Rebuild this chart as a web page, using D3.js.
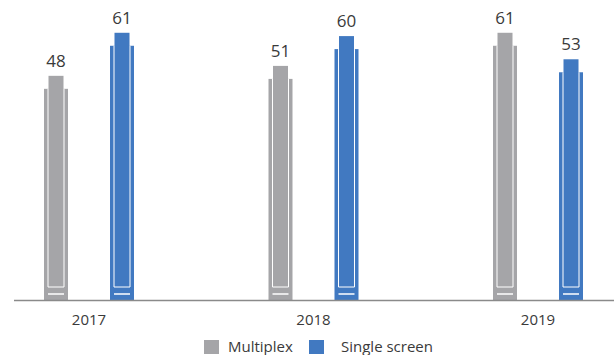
<!DOCTYPE html>
<html>
<head>
<meta charset="utf-8">
<script src="https://cdn.jsdelivr.net/npm/d3@7"></script>
<style>
  body { margin: 0; background: #fff; }
  svg { display: block; font-family: "Open Sans", sans-serif; }
</style>
</head>
<body>
<svg id="chart" width="614" height="355"></svg>
<script>
// data
var years = ['2017', '2018', '2019'];
var seriesNames = ['Multiplex', 'Single screen'];
var multiplex = [48, 51, 61];
var singleScreen = [61, 60, 53];
var colors = ['#a5a5a8', '#4179c1'];

var svg = d3.select('#chart');
var baseY = 300;

var x = d3.scalePoint().domain(years).range([89, 538]);
var off = d3.scalePoint().domain(seriesNames).range([-33, 33]);
// bars sit on a decorated base, so the axis is not at zero
var y = d3.scaleLinear().domain([-19.7, 70.9]).range([baseY, 0]);

var rows = [];
years.forEach(function (yr, i) {
  rows.push({ year: yr, series: seriesNames[0], value: multiplex[i], color: colors[0] });
  rows.push({ year: yr, series: seriesNames[1], value: singleScreen[i], color: colors[1] });
});

var g = svg.selectAll('g.bar').data(rows).join('g')
  .attr('class', 'bar')
  .attr('transform', function (d) { return 'translate(' + (x(d.year) + off(d.series)) + ',0)'; });

// side wings
g.append('rect')
  .attr('x', -12).attr('width', 24)
  .attr('y', function (d) { return y(d.value) + 13; })
  .attr('height', function (d) { return baseY - y(d.value) - 13; })
  .attr('fill', function (d) { return d.color; });

// tall middle part
g.append('rect')
  .attr('x', -7.5).attr('width', 15)
  .attr('y', function (d) { return y(d.value); })
  .attr('height', function (d) { return baseY - y(d.value); })
  .attr('fill', function (d) { return d.color; });

// white seams
g.append('path')
  .attr('d', function (d) {
    var t = y(d.value) + 13;
    return 'M-8,' + t + 'V287H8V' + t;
  })
  .attr('fill', 'none')
  .attr('stroke', '#fff')
  .attr('stroke-width', 1);

g.append('line')
  .attr('x1', -8).attr('x2', 8)
  .attr('y1', 294).attr('y2', 294)
  .attr('stroke', '#fff')
  .attr('stroke-width', 1.5);

// value labels
g.append('text')
  .attr('text-anchor', 'middle')
  .attr('y', function (d) { return y(d.value) - 9; })
  .attr('font-size', 17)
  .attr('fill', '#3a3a3a')
  .text(function (d) { return d.value; });

// axis
svg.append('line')
  .attr('x1', 14).attr('x2', 614)
  .attr('y1', baseY + 0.5).attr('y2', baseY + 0.5)
  .attr('stroke', '#8a8a8a')
  .attr('stroke-width', 1.5);

svg.selectAll('text.year').data(years).join('text')
  .attr('class', 'year')
  .attr('x', function (d) { return x(d); })
  .attr('y', 325)
  .attr('text-anchor', 'middle')
  .attr('font-size', 15)
  .attr('fill', '#3a3a3a')
  .text(function (d) { return d; });

// legend
var legX = [204, 309];
var leg = svg.selectAll('g.leg').data(seriesNames).join('g')
  .attr('class', 'leg')
  .attr('transform', function (d, i) { return 'translate(' + legX[i] + ',340)'; });
leg.append('rect')
  .attr('width', 15).attr('height', 14)
  .attr('fill', function (d, i) { return colors[i]; });
leg.append('text')
  .attr('x', function (d, i) { return i == 0 ? 24 : 32; })
  .attr('y', 11.5)
  .attr('font-size', 15)
  .attr('fill', '#3a3a3a')
  .text(function (d) { return d; });
</script>
</body>
</html>
